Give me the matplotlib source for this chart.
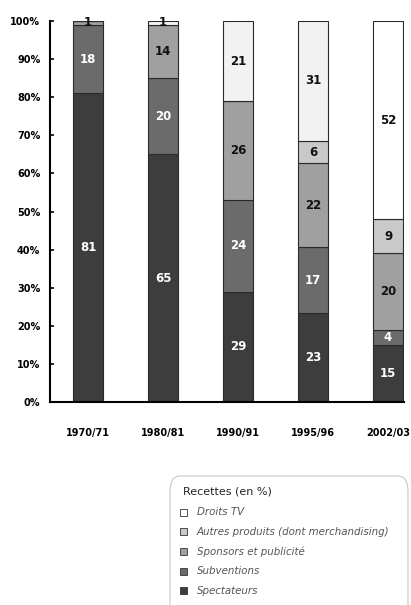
import matplotlib
matplotlib.use("Agg")
import matplotlib.pyplot as plt
import numpy as np
from matplotlib.patches import FancyBboxPatch, Rectangle

# ---- data ----
categories = ["1970/71", "1980/81", "1990/91", "1995/96", "2002/03"]
series_names = ["Spectateurs", "Subventions", "Sponsors et publicité",
                "Autres produits (dont merchandising)", "Droits TV"]
spectateurs = [81, 65, 29, 23.4, 15]
subventions = [18, 20, 24, 17.2, 4]
sponsors = [1, 14, 26, 22.0, 20]
autres = [0, 0, 0, 6.0, 9]
droits_tv = [0, 1, 21, 31.4, 52]
yticks = [0, 10, 20, 30, 40, 50, 60, 70, 80, 90, 100]
legend_title = "Recettes (en %)"

series_values = [spectateurs, subventions, sponsors, autres, droits_tv]
colors = ["#3d3d3d", "#6b6b6b", "#a0a0a0", "#c9c9c9", "#ffffff"]
bar_colors = [[c] * len(categories) for c in colors]
bar_colors[4] = ["#f2f2f3", "#f2f2f3", "#f2f2f3", "#f2f2f3", "#ffffff"]
text_colors = ["white", "white", "#111111", "#111111", "#111111"]

fig = plt.figure(figsize=(4.11, 6.05), dpi=100)
ax = fig.add_axes([50/411, 1 - 402/605, 354/411, 381/605])

x = np.arange(len(categories))
bottom = np.zeros(len(categories))
width = 0.41
for vals, cols, tcol in zip(series_values, bar_colors, text_colors):
    vals = np.array(vals, dtype=float)
    ax.bar(x, vals, width, bottom=bottom, color=cols, edgecolor="#2a2a2a",
           linewidth=0.8, zorder=2)
    for xi, b, v in zip(x, bottom, vals):
        if v > 0:
            ax.text(xi, b + v / 2, f"{int(round(v))}", ha="center", va="center",
                    color=tcol, fontsize=8.5, fontweight="bold", zorder=3)
    bottom += vals

ax.set_xlim(-0.507, 4.213)
ax.set_ylim(0, 100)
ax.set_yticks(yticks)
ax.set_yticklabels([f"{t}%" for t in yticks], fontsize=7, fontweight="bold")
ax.set_xticks(x)
ax.set_xticklabels(categories, fontsize=7, fontweight="bold")
ax.tick_params(axis="x", length=0, pad=19)
ax.tick_params(axis="y", direction="in", length=3, width=1.2, pad=7)
for s in ["top", "right"]:
    ax.spines[s].set_visible(False)
ax.spines["left"].set_linewidth(1.5)
ax.spines["bottom"].set_linewidth(1.5)

# ---- legend (manual) ----
box = FancyBboxPatch((170/411, -0.05), 238/411, (0.05 + 1 - 476/605),
                     boxstyle="round,pad=0,rounding_size=0.025",
                     transform=fig.transFigure, facecolor="white",
                     edgecolor="#c8c8c8", linewidth=0.8, clip_on=False)
fig.patches.append(box)
fig.text(183/411, 1 - 492/605, legend_title, fontsize=8, color="#222222",
         va="center", ha="left")
order = [4, 3, 2, 1, 0]
for i, k in enumerate(order):
    yc = 512 + i * 19.7
    sq = Rectangle((180/411, 1 - (yc + 3.5)/605), 7/411, 7/605,
                   transform=fig.transFigure, facecolor=colors[k],
                   edgecolor="#333333", linewidth=0.6)
    fig.patches.append(sq)
    fig.text(197/411, 1 - yc/605, series_names[k], fontsize=7.4,
             style="italic", color="#555555", va="center", ha="left")

fig.savefig("out.png", dpi=100)
